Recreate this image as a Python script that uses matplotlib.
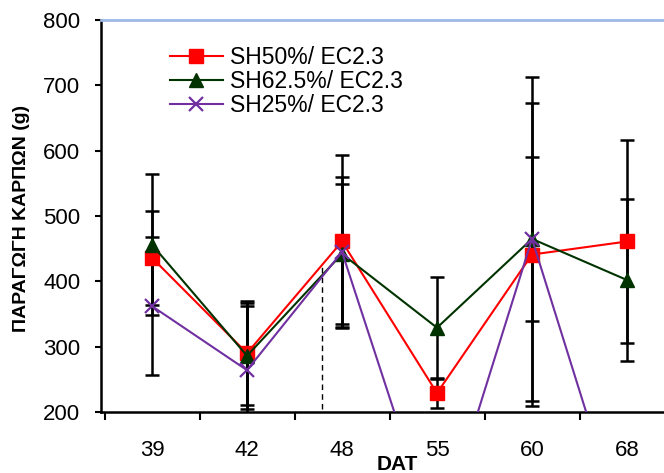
import numpy as np
import matplotlib
matplotlib.use('Agg')
import matplotlib.pyplot as plt

plt.rcParams['font.family'] = ['Liberation Sans', 'DejaVu Sans']

# data
days = ['39', '42', '48', '55', '60', '68']
sh50 = [436, 290, 461, 229, 441, 461]
sh50_err = [72, 80, 133, 23, 232, 155]
sh625 = [456, 286, 442, 329, 465, 402]
sh625_err = [108, 81, 107, 78, 248, 124]
sh25 = [362, 264, 445, 0, 465, 0]
sh25_err = [106, 98, 115, 0, 125, 0]

series = [
    ('SH50%/ EC2.3', sh50, sh50_err, '#FF0000', 's', 10),
    ('SH62.5%/ EC2.3', sh625, sh625_err, '#003300', '^', 10),
    ('SH25%/ EC2.3', sh25, sh25_err, '#7030A0', 'x', 10),
]

# stray dashed guide line between 42 and 48
guide_x = 1.79
guide_y = (205, 428)

W, H = 664, 473
fig = plt.figure(figsize=(W / 100, H / 100), dpi=100)
ax = fig.add_axes([101 / W, (H - 412) / H, 573.5 / W, 392 / H])

x = np.arange(len(days))
for label, vals, err, color, marker, ms in series:
    ax.errorbar(x, vals, yerr=err, fmt='none', ecolor='black', elinewidth=1.8,
                capsize=4.7, capthick=1.8, zorder=2)
for label, vals, err, color, marker, ms in series:
    ax.plot(x, vals, color=color, lw=1.5, marker=marker, ms=ms,
            mew=1.6 if marker == 'x' else 1, label=label, zorder=3)

ax.vlines(guide_x, guide_y[0], guide_y[1], colors='black', lw=1,
          linestyles=(0, (4, 3)), zorder=2)

ax.set_ylim(200, 800)
ax.set_xlim(-0.537, 5.5)
ax.set_yticks(np.arange(200, 801, 100))
ax.set_xticks(x)
ax.set_xticklabels(days)
ax.set_xticks(np.arange(-0.5, 6, 1), minor=True)
ax.tick_params(axis='x', which='major', length=0, pad=20, labelsize=16)
ax.tick_params(axis='x', which='minor', length=6, width=1.5, direction='out')
ax.tick_params(axis='y', length=4, width=1.5, direction='out', pad=11, labelsize=16)

for s in ['left', 'bottom']:
    ax.spines[s].set_linewidth(1.8)
ax.spines['top'].set_color('#9DB9E8')
ax.spines['top'].set_linewidth(2)
ax.spines['right'].set_visible(False)

ax.set_xlabel('DAT', fontsize=15, fontweight='bold')
ax.xaxis.set_label_coords((397 - 101) / 573.5, -0.11)
fig.text(22 / W, 1 - 218 / H, 'ΠΑΡΑΓΩΓΗ ΚΑΡΠΩΝ (g)', rotation=90,
         ha='center', va='center', fontsize=14, fontweight='bold')

ax.legend(loc='upper left', bbox_to_anchor=(170 / W, 1 - 46 / H),
          bbox_transform=fig.transFigure, frameon=False, fontsize=16.5,
          handlelength=2.3, handletextpad=0.3, labelspacing=0.05,
          borderpad=0, borderaxespad=0)

fig.savefig('out.png', dpi=100)
